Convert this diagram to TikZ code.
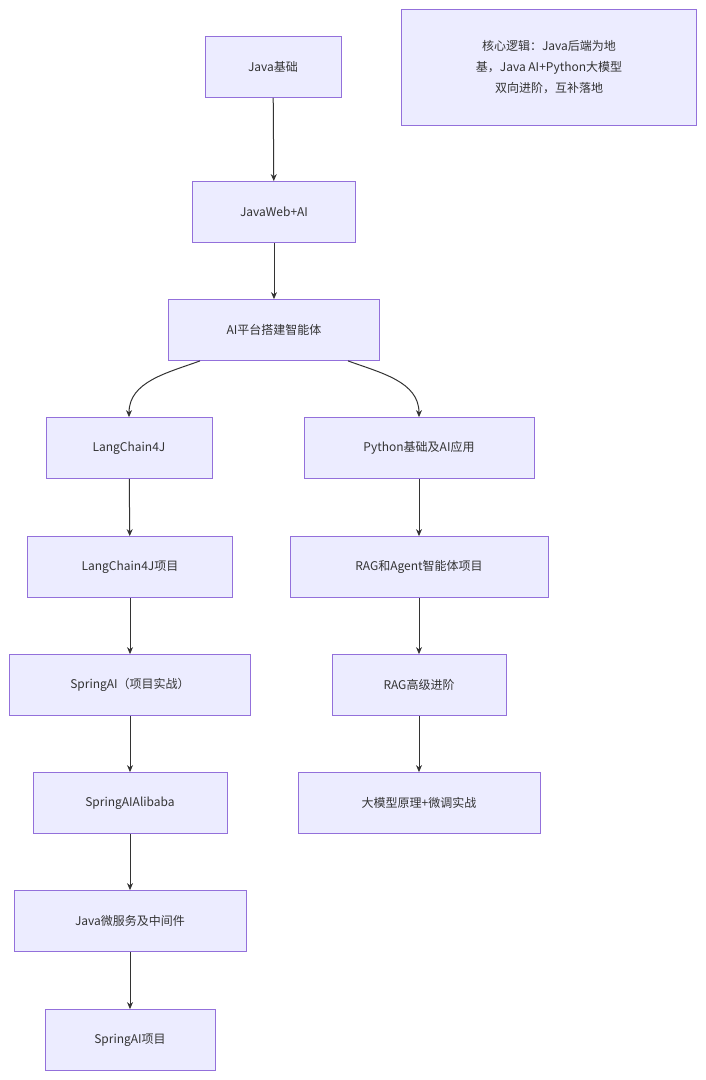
\documentclass[tikz,border=0pt]{standalone}
\usepackage{fontspec}
\setmainfont{Noto Sans CJK SC}
\usetikzlibrary{arrows.meta}
\definecolor{bfill}{HTML}{ECECFF}
\definecolor{bline}{HTML}{9370DB}
\definecolor{ecol}{HTML}{333333}
\begin{document}
\begin{tikzpicture}[x=1pt,y=-1pt,
  box/.style={draw=bline,fill=bfill,line width=0.8pt,font=\fontsize{12}{14}\selectfont,text=ecol,inner sep=0pt,anchor=center},
  arr/.style={draw=ecol,line width=1pt,-{Stealth[length=7pt,width=6pt]}}]
\useasboundingbox (0,0) rectangle (706,1080);
\fill[white] (0,0) rectangle (706,1080);
\node[box,minimum width=136,minimum height=61] (a) at (273,67) {Java基础};
\node[box,minimum width=163,minimum height=61] (b) at (274,212) {JavaWeb+AI};
\node[box,minimum width=211,minimum height=61] (c) at (274,330) {AI平台搭建智能体};
\node[box,minimum width=166,minimum height=61] (l1) at (129,448) {LangChain4J};
\node[box,minimum width=205,minimum height=61] (l2) at (130,567) {LangChain4J项目};
\node[box,minimum width=241,minimum height=61] (l3) at (130,685) {SpringAI（项目实战）};
\node[box,minimum width=194,minimum height=61] (l4) at (130,803) {SpringAIAlibaba};
\node[box,minimum width=232,minimum height=61] (l5) at (130,921) {Java微服务及中间件};
\node[box,minimum width=170,minimum height=61] (l6) at (130,1040) {SpringAI项目};
\node[box,minimum width=230,minimum height=61] (r1) at (419,448) {Python基础及AI应用};
\node[box,minimum width=258,minimum height=61] (r2) at (419,567) {RAG和Agent智能体项目};
\node[box,minimum width=174,minimum height=61] (r3) at (419,685) {RAG高级进阶};
\node[box,minimum width=242,minimum height=61] (r4) at (419,803) {大模型原理+微调实战};
\node[box,minimum width=295,minimum height=116,align=center,font=\fontsize{12}{21}\selectfont] (n) at (549,67) {核心逻辑：Java后端为地\\基，Java AI+Python大模型\\双向进阶，互补落地};
\draw[arr] (a) -- (b);
\draw[arr] (b) -- (c);
\draw[arr] ([xshift=-74pt]c.south) to[out=200,in=90] (l1.north);
\draw[arr] ([xshift=74pt]c.south) to[out=-20,in=90] (r1.north);
\draw[arr] (l1) -- (l2);
\draw[arr] (l2) -- (l3);
\draw[arr] (l3) -- (l4);
\draw[arr] (l4) -- (l5);
\draw[arr] (l5) -- (l6);
\draw[arr] (r1) -- (r2);
\draw[arr] (r2) -- (r3);
\draw[arr] (r3) -- (r4);
\end{tikzpicture}
\end{document}
